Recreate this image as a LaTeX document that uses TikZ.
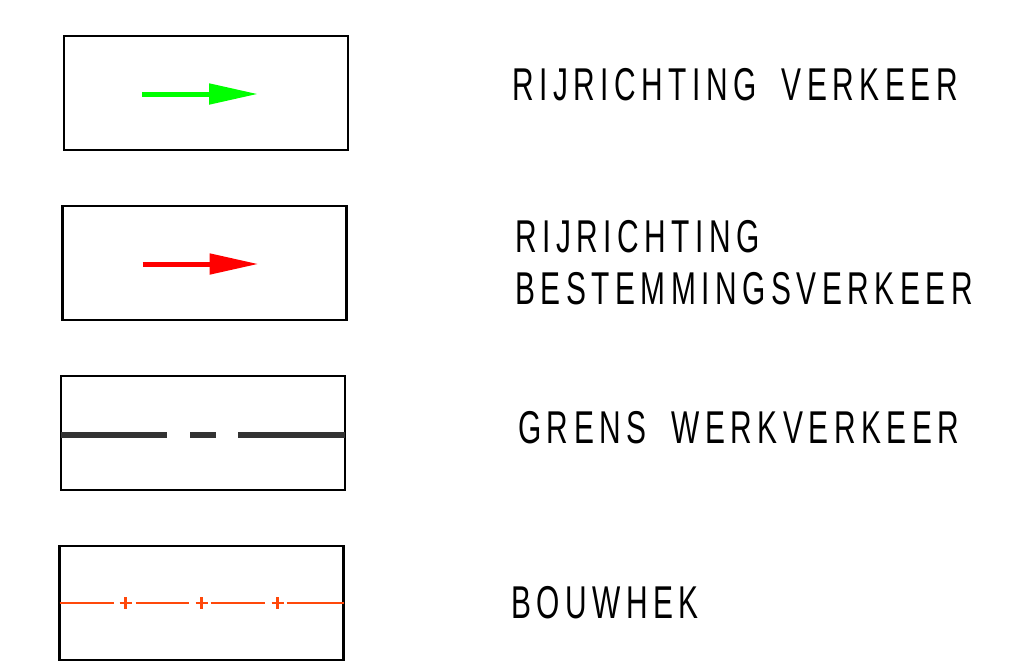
\documentclass[tikz,border=0pt]{standalone}
\usepackage{fontspec}
\newfontfamily\legendfont[FakeStretch=0.65,LetterSpace=12,WordSpace=1.8]{Liberation Sans}
\usetikzlibrary{positioning,calc,arrows.meta}
\definecolor{rijgroen}{RGB}{0,255,0}
\definecolor{rijrood}{RGB}{255,0,0}
\definecolor{grensgrijs}{RGB}{51,51,51}
\definecolor{hekoranje}{RGB}{255,72,10}

\begin{document}
\begin{tikzpicture}[x=1pt,y=-1pt,
legbox/.style={rectangle,draw,line width=2.6pt,minimum width=284pt,minimum height=114pt,outer sep=0pt,inner sep=0pt},
legtext/.style={anchor=base west,inner sep=0pt,align=left,font={\legendfont\fontsize{46}{52}\selectfont}},
rijpijl/.style={line width=5pt,-{Triangle[length=49pt,width=20pt]}}]
\useasboundingbox (0,0) rectangle (1034,670);

% boxes
\node[legbox] (b1) at (206,93) {};
\node[legbox,below=56pt of b1,xshift=-1.5pt] (b2) {};
\node[legbox,below=56pt of b2,xshift=-1.5pt] (b3) {};
\node[legbox,below=56pt of b3,xshift=-1.5pt] (b4) {};

% symbols
\coordinate (p1s) at ($(b1.center)+(-64,1)$);
\coordinate (p1e) at ($(b1.center)+(52,1)$);
\draw[rijpijl,color=rijgroen] (p1s) -- (p1e);
\coordinate (p2s) at ($(b2.center)+(-62,1)$);
\coordinate (p2e) at ($(b2.center)+(54,1)$);
\draw[rijpijl,color=rijrood] (p2s) -- (p2e);

\draw[grensgrijs,line width=6pt,dash pattern=on 106pt off 23pt on 26pt off 22pt on 300pt]
  ($(b3.west)+(0,2)$) -- ($(b3.east)+(0,2)$);

\draw[hekoranje,line width=2.8pt,dash pattern=on 54pt off 22pt on 53pt off 22pt on 54pt off 22pt on 200pt]
  (b4.west) -- (b4.east);
\foreach \dx in {66,142,218}{
  \draw[hekoranje,line width=2.8pt] ($(b4.west)+(\dx,-6)$) -- ++(0,12)
    ($(b4.west)+(\dx-6,0)$) -- ++(12,0);
}

% labels
\node[legtext] (t1) at (512,100) {RIJRICHTING VERKEER};
\node[legtext] (t2) at (515,304) {RIJRICHTING\\BESTEMMINGSVERKEER};
\node[legtext] (t3) at (518,443) {GRENS WERKVERKEER};
\node[legtext] (t4) at (511,618) {BOUWHEK};
\end{tikzpicture}
\end{document}
